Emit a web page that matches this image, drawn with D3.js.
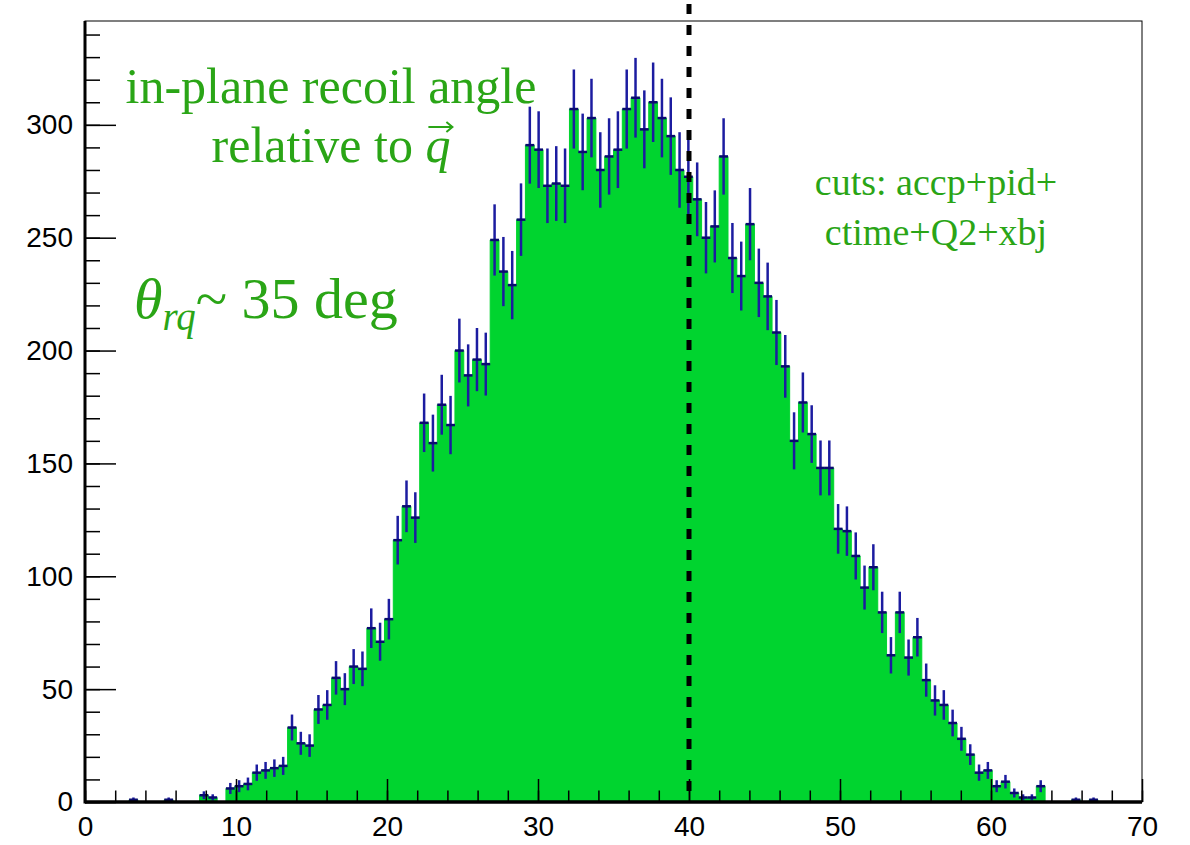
<!DOCTYPE html>
<html>
<head>
<meta charset="utf-8">
<script src="https://cdn.jsdelivr.net/npm/d3@7"></script>
<style>
  body { margin: 0; background: #fff; }
  svg { display: block; }
</style>
</head>
<body>
<svg id="chart" width="1190" height="845"></svg>
<script>
// histogram: 120 bins from 0 to 70 deg
var binLo = 0, binHi = 70, nBins = 120;
var counts = [
  0, 0, 0, 0, 0, 1, 0, 0, 0, 1,
  0, 0, 0, 3, 2, 0, 6, 7, 8, 13,
  14, 15, 16, 33, 26, 25, 41, 43, 55, 50,
  60, 59, 77, 71, 81, 116, 131, 126, 168, 159,
  176, 167, 200, 189, 196, 194, 249, 235, 229, 258,
  291, 289, 273, 274, 273, 307, 288, 303, 280, 286,
  289, 307, 312, 298, 310, 303, 295, 280, 277, 267,
  250, 255, 286, 241, 233, 256, 230, 224, 208, 193,
  160, 177, 163, 148, 148, 121, 120, 109, 95, 104,
  84, 65, 84, 64, 73, 54, 45, 43, 35, 28,
  21, 13, 14, 7, 9, 4, 2, 2, 7, 0,
  0, 0, 1, 0, 1, 0, 0, 0, 0, 0
];
var xMajor = [0, 10, 20, 30, 40, 50, 60, 70];
var yMajor = [0, 50, 100, 150, 200, 250, 300];
var cutLine = 40;
var titleLines = ["in-plane recoil angle", "relative to "];
var cutsLines = ["cuts: accp+pid+", "ctime+Q2+xbj"];

var svg = d3.select("#chart");
var fillGreen = "#00d42f", textGreen = "#2aa516", errBlue = "#1c1ca0";

var x = d3.scaleLinear().domain([0, 70]).range([85, 1142]);
var y = d3.scaleLinear().domain([0, 346]).range([802, 21]);
var bw = (binHi - binLo) / nBins;

// filled histogram as step area
var steps = counts.map(function(c, i) { return [binLo + i * bw, c]; });
steps.push([binHi, counts[nBins - 1]]);
var area = d3.area()
    .x(function(d) { return x(d[0]); })
    .y0(y(0))
    .y1(function(d) { return y(d[1]); })
    .curve(d3.curveStepAfter);
svg.append("path")
    .attr("d", area(steps))
    .attr("fill", fillGreen)
    .attr("stroke", fillGreen)
    .attr("stroke-width", 1);

// error bars (sqrt N)
var eb = svg.append("g").attr("stroke", errBlue).attr("stroke-width", 2.5);
counts.forEach(function(c, i) {
  if (c <= 0) return;
  var e = Math.sqrt(c);
  var xc = x(binLo + (i + 0.5) * bw);
  eb.append("line").attr("x1", xc).attr("x2", xc)
    .attr("y1", y(c - e)).attr("y2", y(c + e));
  eb.append("line")
    .attr("x1", x(binLo + i * bw)).attr("x2", x(binLo + (i + 1) * bw))
    .attr("y1", y(c)).attr("y2", y(c))
    .attr("stroke", "#0a0a70");
});

// frame
svg.append("rect")
    .attr("x", x(0)).attr("y", y(346))
    .attr("width", x(70) - x(0)).attr("height", y(0) - y(346))
    .attr("fill", "none").attr("stroke", "#000").attr("stroke-width", 1);

// axes
var yAxis = d3.axisLeft(y).tickValues(yMajor).tickSizeInner(-31).tickSizeOuter(0)
    .tickPadding(12).tickFormat(d3.format("d"));
var yMinor = d3.axisLeft(y).tickValues(d3.range(0, 341, 10)).tickSizeInner(-15)
    .tickSizeOuter(0).tickFormat("");
var xAxis = d3.axisBottom(x).tickValues(xMajor).tickSizeInner(-23).tickSizeOuter(0)
    .tickPadding(14).tickFormat(d3.format("d"));
var xMinor = d3.axisBottom(x).tickValues(d3.range(0, 71, 2)).tickSizeInner(-11.5)
    .tickSizeOuter(0).tickFormat("");

function styleAxis(g) {
  g.selectAll(".tick line").attr("stroke", "#000").attr("stroke-width", 1.5);
  g.selectAll("text").attr("font-family", "'Liberation Sans', Arial, sans-serif")
    .attr("font-size", 28).attr("fill", "#000");
}
svg.append("g").attr("transform", "translate(" + x(0) + ",0)").call(yMinor).call(styleAxis);
svg.append("g").attr("transform", "translate(" + x(0) + ",0)").call(yAxis).call(styleAxis);
svg.append("g").attr("transform", "translate(0," + y(0) + ")").call(xMinor).call(styleAxis);
svg.append("g").attr("transform", "translate(0," + y(0) + ")").call(xAxis).call(styleAxis);
svg.selectAll(".domain").remove();

svg.append("line").attr("x1", x(0)).attr("x2", x(0)).attr("y1", y(346)).attr("y2", y(0) + 1.5)
    .attr("stroke", "#000").attr("stroke-width", 3);
svg.append("line").attr("x1", x(0)).attr("x2", x(70)).attr("y1", y(0)).attr("y2", y(0))
    .attr("stroke", "#000").attr("stroke-width", 3.5);

// dashed cut line
svg.append("line")
    .attr("x1", x(cutLine)).attr("x2", x(cutLine))
    .attr("y1", 4).attr("y2", y(0))
    .attr("stroke", "#000").attr("stroke-width", 5)
    .attr("stroke-dasharray", "10,11");

// annotations
var serif = "'Liberation Serif', 'Times New Roman', serif";
svg.append("text").attr("x", 331).attr("y", 103).attr("text-anchor", "middle")
    .attr("font-family", serif).attr("font-size", 50).attr("fill", textGreen)
    .text(titleLines[0]);
var t2 = svg.append("text").attr("x", 331).attr("y", 162).attr("text-anchor", "middle")
    .attr("font-family", serif).attr("font-size", 50).attr("fill", textGreen);
t2.append("tspan").text(titleLines[1]);
t2.append("tspan").attr("font-style", "italic").text("q");
var qb = t2.node().getBBox();
// arrow over q
var qx1 = qb.x + qb.width - 22, qx2 = qb.x + qb.width + 2, qy = 127;
svg.append("path")
    .attr("d", "M" + qx1 + "," + qy + "H" + qx2 + "M" + (qx2 - 6) + "," + (qy - 5) + "L" + qx2 + "," + qy + "L" + (qx2 - 6) + "," + (qy + 5))
    .attr("fill", "none").attr("stroke", textGreen).attr("stroke-width", 2);

var th = svg.append("text").attr("x", 134).attr("y", 318)
    .attr("font-family", serif).attr("font-size", 58).attr("fill", textGreen);
th.append("tspan").attr("font-style", "italic").text("\u03b8");
th.append("tspan").attr("font-style", "italic").attr("font-size", 39).attr("dy", 12).text("rq");
th.append("tspan").attr("dy", -12).text("~ 35 deg");

svg.selectAll(".cuts").data(cutsLines).enter().append("text")
    .attr("x", 936).attr("y", function(d, i) { return 195 + i * 50; })
    .attr("text-anchor", "middle")
    .attr("font-family", serif).attr("font-size", 38).attr("fill", textGreen)
    .text(function(d) { return d; });
</script>
</body>
</html>
